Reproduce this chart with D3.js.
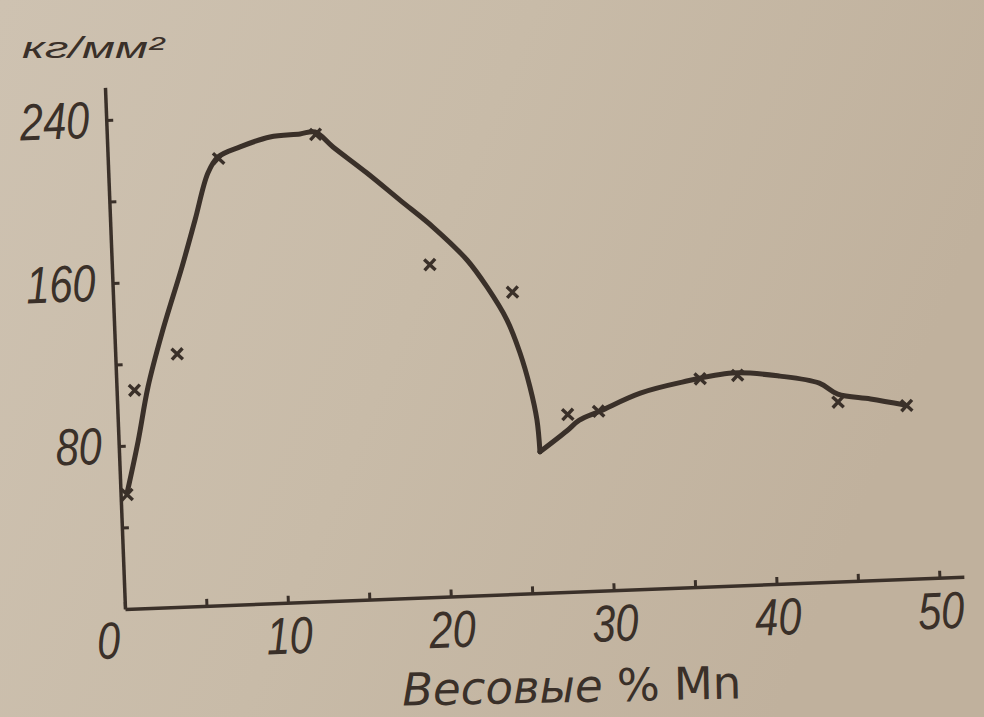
<!DOCTYPE html>
<html>
<head>
<meta charset="utf-8">
<script src="https://cdn.jsdelivr.net/npm/d3@7"></script>
<style>
  html, body { margin: 0; padding: 0; background: #c8bba8; }
  svg { display: block; }
</style>
</head>
<body>
<svg id="chart" width="984" height="717"></svg>
<script>
// measured points (x marks), wt.% Mn vs kg/mm2
const markerMn = [0.4, 1.1, 3.8, 6.8, 12.8, 19.5, 24.5, 27.6, 29.5, 35.8, 38.1, 44.2, 48.4];
const markerStrength = [56, 107, 124, 219, 229, 163, 148, 87, 88, 102, 103, 88, 85];

// hand drawn curve, left branch (up to the minimum) and right branch
const curveLeftMn = [0.4, 1.2, 1.93, 2.92, 4.3, 5.21, 6.11, 6.77, 8.14, 10.0, 11.85, 12.77, 13.84, 15.86, 17.82, 19.78, 21.79, 22.95, 24.1, 24.82, 25.35, 25.7, 25.81];
const curveLeftStrength = [56.8, 82, 108.3, 134.6, 166.6, 189.3, 212.1, 219.8, 224.3, 228.6, 229.5, 230.2, 222.5, 209.1, 195.2, 181.4, 164.6, 151, 134.4, 118, 101.1, 84.9, 69.2];
const curveRightMn = [25.81, 27.5, 28.3, 29.6, 32.1, 34.7, 37.8, 40.7, 43.1, 44.2, 46.2, 48.3];
const curveRightStrength = [69.2, 78.9, 84, 88.1, 96.1, 100.7, 104.2, 101.8, 97.6, 91.9, 88.9, 85.3];

const xTicks = [0, 5, 10, 15, 20, 25, 30, 35, 40, 45, 50];
const xLabels = [0, 10, 20, 30, 40, 50];
const yTicks = [40, 80, 120, 160, 200, 240];
const yLabels = [80, 160, 240];

const ink = "#3a3029";
const font = "'Liberation Sans', Arial, sans-serif";
const squeeze = 0.8;

const svg = d3.select("#chart");

const defs = svg.append("defs");
const grad = defs.append("linearGradient")
	.attr("id", "paper")
	.attr("x1", "0").attr("y1", "0")
	.attr("x2", "1").attr("y2", "0.3");
grad.append("stop").attr("offset", "0").attr("stop-color", "#cec2b1");
grad.append("stop").attr("offset", "0.5").attr("stop-color", "#c8bba8");
grad.append("stop").attr("offset", "1").attr("stop-color", "#c0b19d");

svg.append("rect")
	.attr("width", 984)
	.attr("height", 717)
	.attr("fill", "url(#paper)");

// the photo is slightly rotated, so the plot is drawn in a tilted group
const g = svg.append("g")
	.attr("transform", "translate(125,609) rotate(-2.2)");

const xScale = d3.scaleLinear().domain([0, 51.5]).range([0, 51.5 * 16.3]);
const yScale = d3.scaleLinear().domain([0, 256]).range([0, -522]);

const xAxis = g.append("g")
	.call(d3.axisBottom(xScale)
		.tickValues(xTicks)
		.tickFormat(d => xLabels.includes(d) ? d : "")
		.tickSizeInner(-7)
		.tickSizeOuter(0)
		.tickPadding(14));

const yAxis = g.append("g")
	.call(d3.axisLeft(yScale)
		.tickValues(yTicks)
		.tickFormat(d => yLabels.includes(d) ? d : "")
		.tickSizeInner(-7)
		.tickSizeOuter(0)
		.tickPadding(17));

[xAxis, yAxis].forEach(ax => {
	ax.select(".domain")
		.attr("stroke", ink)
		.attr("stroke-width", 3.5);
	ax.selectAll(".tick line")
		.attr("stroke", ink)
		.attr("stroke-width", 3);
	ax.selectAll(".tick text")
		.attr("fill", ink)
		.style("font-family", font)
		.style("font-style", "italic")
		.style("font-size", "52px");
});

// narrow the digits like the printed ones
xAxis.selectAll(".tick text")
	.attr("transform", `scale(${squeeze},1)`);
xAxis.selectAll(".tick")
	.filter(d => d === 0)
	.select("text")
	.attr("x", -18 / squeeze)
	.attr("y", 12);
yAxis.selectAll(".tick text")
	.attr("transform", `scale(${squeeze},1)`)
	.attr("x", -17 / squeeze);

const lineGen = d3.line()
	.x(d => xScale(d[0]))
	.y(d => yScale(d[1]))
	.curve(d3.curveCatmullRom.alpha(0.5));

const leftData = curveLeftMn.map((m, i) => [m, curveLeftStrength[i]]);
const rightData = curveRightMn.map((m, i) => [m, curveRightStrength[i]]);

[leftData, rightData].forEach(data => {
	g.append("path")
		.attr("d", lineGen(data))
		.attr("fill", "none")
		.attr("stroke", ink)
		.attr("stroke-width", 5)
		.attr("stroke-linejoin", "round")
		.attr("stroke-linecap", "round");
});

g.selectAll(".mark")
	.data(markerMn.map((m, i) => [m, markerStrength[i]]))
	.join("path")
	.attr("class", "mark")
	.attr("transform", d => `translate(${xScale(d[0])},${yScale(d[1])})`)
	.attr("d", "M-5.5,-5.5L5.5,5.5M-5.5,5.5L5.5,-5.5")
	.attr("stroke", ink)
	.attr("stroke-width", 3.4)
	.attr("fill", "none");

// unit label and axis title
svg.append("text")
	.attr("x", 22)
	.attr("y", 58)
	.attr("fill", ink)
	.attr("textLength", 142)
	.attr("lengthAdjust", "spacingAndGlyphs")
	.style("font-family", font)
	.style("font-style", "italic")
	.style("font-size", "30px")
	.text("кг/мм²");

svg.append("text")
	.attr("x", 572)
	.attr("y", 702)
	.attr("text-anchor", "middle")
	.attr("transform", "rotate(-1.2,572,702)")
	.attr("fill", ink)
	.style("font-family", "'DejaVu Sans', sans-serif")
	.style("font-size", "45px")
	.html("<tspan font-style='italic'>Весовые</tspan> % Mn");
</script>
</body>
</html>
